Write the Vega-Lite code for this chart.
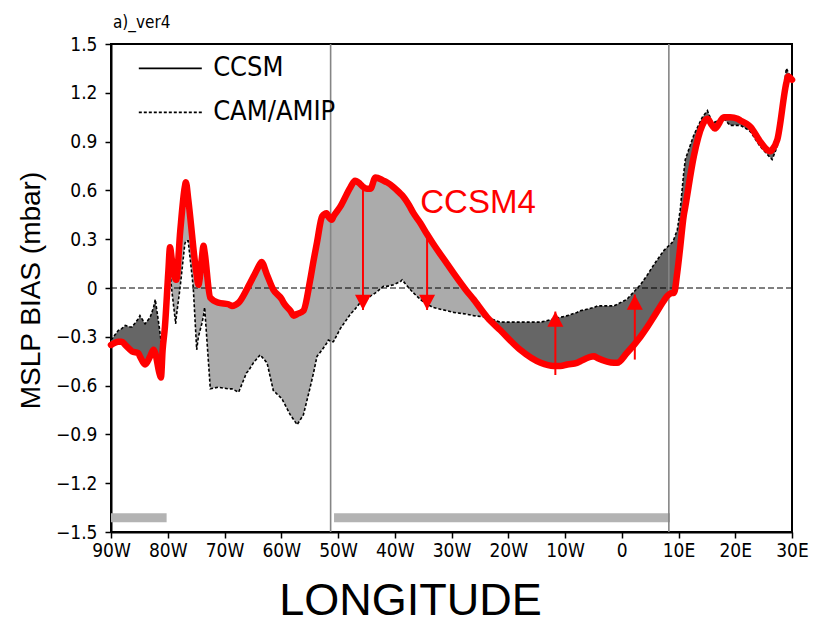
{
  "$schema": "https://vega.github.io/schema/vega-lite/v6.json",
  "width": 681,
  "height": 488,
  "autosize": {"type": "none"},
  "padding": {"left": 111, "top": 44, "right": 22, "bottom": 94},
  "background": "white",
  "config": {
    "view": {"stroke": "black", "strokeWidth": 2},
    "axis": {
      "domainColor": "black", "domainWidth": 2, "tickColor": "black", "tickWidth": 1.5, "tickSize": 6,
      "labelColor": "black", "labelFont": "Liberation Sans Narrow, DejaVu Sans Condensed, sans-serif",
      "labelFontSize": 19, "grid": false, "titleColor": "black", "titleFontWeight": "normal",
      "titleFont": "Liberation Sans, Arial, sans-serif"
    }
  },
  "title": {"text": "a)_ver4", "anchor": "start", "frame": "group", "baseline": "alphabetic", "offset": -10, "dx": 2,
    "fontSize": 17, "fontWeight": "normal", "color": "black", "font": "Liberation Sans Narrow, DejaVu Sans Condensed, sans-serif"},
  "datasets": {
    "curves": [
      {"lon": -90, "ccsm": -0.35, "cam": -0.32, "seg": "A", "shade": "dark"},
      {"lon": -88.7, "ccsm": -0.33, "cam": -0.26, "seg": "A", "shade": "dark"},
      {"lon": -88.1, "ccsm": -0.33, "cam": -0.25, "seg": "A", "shade": "dark"},
      {"lon": -87.5, "ccsm": -0.35, "cam": -0.23, "seg": "A", "shade": "dark"},
      {"lon": -86.6, "ccsm": -0.38, "cam": -0.24, "seg": "A", "shade": "dark"},
      {"lon": -86.3, "ccsm": -0.39, "cam": -0.24, "seg": "A", "shade": "dark"},
      {"lon": -85.2, "ccsm": -0.40, "cam": -0.19, "seg": "A", "shade": "dark"},
      {"lon": -84.9, "ccsm": -0.42, "cam": -0.17, "seg": "A", "shade": "dark"},
      {"lon": -84.0, "ccsm": -0.47, "cam": -0.22, "seg": "A", "shade": "dark"},
      {"lon": -83.1, "ccsm": -0.42, "cam": -0.18, "seg": "A", "shade": "dark"},
      {"lon": -82.5, "ccsm": -0.38, "cam": -0.12, "seg": "A", "shade": "dark"},
      {"lon": -82.2, "ccsm": -0.40, "cam": -0.07, "seg": "A", "shade": "dark"},
      {"lon": -81.5, "ccsm": -0.52, "cam": -0.24, "seg": "A", "shade": "dark"},
      {"lon": -81.2, "ccsm": -0.55, "cam": -0.32, "seg": "A", "shade": "dark"},
      {"lon": -80.9, "ccsm": -0.38, "cam": -0.38, "seg": "A", "shade": "dark"},
      {"lon": -80.9, "ccsm": -0.38, "cam": -0.38, "seg": "B", "shade": "light"},
      {"lon": -80.5, "ccsm": -0.24, "cam": -0.26, "seg": "B", "shade": "light"},
      {"lon": -79.9, "ccsm": 0.10, "cam": 0.08, "seg": "B", "shade": "light"},
      {"lon": -79.6, "ccsm": 0.25, "cam": 0.10, "seg": "B", "shade": "light"},
      {"lon": -79.3, "ccsm": 0.18, "cam": -0.01, "seg": "B", "shade": "light"},
      {"lon": -78.6, "ccsm": 0.05, "cam": -0.22, "seg": "B", "shade": "light"},
      {"lon": -78.5, "ccsm": 0.05, "cam": -0.18, "seg": "B", "shade": "light"},
      {"lon": -77.8, "ccsm": 0.35, "cam": 0.01, "seg": "B", "shade": "light"},
      {"lon": -77.0, "ccsm": 0.62, "cam": 0.27, "seg": "B", "shade": "light"},
      {"lon": -76.8, "ccsm": 0.65, "cam": 0.29, "seg": "B", "shade": "light"},
      {"lon": -76.4, "ccsm": 0.55, "cam": 0.29, "seg": "B", "shade": "light"},
      {"lon": -75.7, "ccsm": 0.32, "cam": 0.07, "seg": "B", "shade": "light"},
      {"lon": -75.5, "ccsm": 0.25, "cam": 0.0, "seg": "B", "shade": "light"},
      {"lon": -74.9, "ccsm": 0.08, "cam": -0.38, "seg": "B", "shade": "light"},
      {"lon": -74.6, "ccsm": 0.02, "cam": -0.30, "seg": "B", "shade": "light"},
      {"lon": -74.0, "ccsm": 0.18, "cam": -0.22, "seg": "B", "shade": "light"},
      {"lon": -73.7, "ccsm": 0.26, "cam": -0.17, "seg": "B", "shade": "light"},
      {"lon": -73.5, "ccsm": 0.22, "cam": -0.12, "seg": "B", "shade": "light"},
      {"lon": -72.5, "ccsm": -0.06, "cam": -0.62, "seg": "B", "shade": "light"},
      {"lon": -71.1, "ccsm": -0.09, "cam": -0.61, "seg": "B", "shade": "light"},
      {"lon": -69.3, "ccsm": -0.10, "cam": -0.62, "seg": "B", "shade": "light"},
      {"lon": -68.7, "ccsm": -0.11, "cam": -0.62, "seg": "B", "shade": "light"},
      {"lon": -67.5, "ccsm": -0.09, "cam": -0.64, "seg": "B", "shade": "light"},
      {"lon": -66.1, "ccsm": -0.01, "cam": -0.52, "seg": "B", "shade": "light"},
      {"lon": -65.8, "ccsm": 0.01, "cam": -0.51, "seg": "B", "shade": "light"},
      {"lon": -64.9, "ccsm": 0.07, "cam": -0.46, "seg": "B", "shade": "light"},
      {"lon": -63.7, "ccsm": 0.15, "cam": -0.41, "seg": "B", "shade": "light"},
      {"lon": -63.5, "ccsm": 0.16, "cam": -0.42, "seg": "B", "shade": "light"},
      {"lon": -62.5, "ccsm": 0.08, "cam": -0.46, "seg": "B", "shade": "light"},
      {"lon": -61.4, "ccsm": -0.01, "cam": -0.63, "seg": "B", "shade": "light"},
      {"lon": -59.9, "ccsm": -0.07, "cam": -0.68, "seg": "B", "shade": "light"},
      {"lon": -59.6, "ccsm": -0.09, "cam": -0.70, "seg": "B", "shade": "light"},
      {"lon": -58.4, "ccsm": -0.14, "cam": -0.78, "seg": "B", "shade": "light"},
      {"lon": -57.8, "ccsm": -0.17, "cam": -0.81, "seg": "B", "shade": "light"},
      {"lon": -57.2, "ccsm": -0.16, "cam": -0.84, "seg": "B", "shade": "light"},
      {"lon": -56.1, "ccsm": -0.14, "cam": -0.78, "seg": "B", "shade": "light"},
      {"lon": -54.9, "ccsm": 0.05, "cam": -0.61, "seg": "B", "shade": "light"},
      {"lon": -54.3, "ccsm": 0.17, "cam": -0.52, "seg": "B", "shade": "light"},
      {"lon": -53.7, "ccsm": 0.28, "cam": -0.42, "seg": "B", "shade": "light"},
      {"lon": -52.8, "ccsm": 0.44, "cam": -0.38, "seg": "B", "shade": "light"},
      {"lon": -52.0, "ccsm": 0.46, "cam": -0.34, "seg": "B", "shade": "light"},
      {"lon": -51.7, "ccsm": 0.44, "cam": -0.32, "seg": "B", "shade": "light"},
      {"lon": -51.1, "ccsm": 0.42, "cam": -0.33, "seg": "B", "shade": "light"},
      {"lon": -50.8, "ccsm": 0.44, "cam": -0.33, "seg": "B", "shade": "light"},
      {"lon": -49.6, "ccsm": 0.50, "cam": -0.25, "seg": "B", "shade": "light"},
      {"lon": -47.8, "ccsm": 0.62, "cam": -0.16, "seg": "B", "shade": "light"},
      {"lon": -47.0, "ccsm": 0.66, "cam": -0.13, "seg": "B", "shade": "light"},
      {"lon": -46.1, "ccsm": 0.64, "cam": -0.09, "seg": "B", "shade": "light"},
      {"lon": -45.5, "ccsm": 0.62, "cam": -0.08, "seg": "B", "shade": "light"},
      {"lon": -44.9, "ccsm": 0.61, "cam": -0.07, "seg": "B", "shade": "light"},
      {"lon": -44.3, "ccsm": 0.61, "cam": -0.05, "seg": "B", "shade": "light"},
      {"lon": -43.4, "ccsm": 0.68, "cam": -0.03, "seg": "B", "shade": "light"},
      {"lon": -42.0, "ccsm": 0.66, "cam": 0.01, "seg": "B", "shade": "light"},
      {"lon": -41.4, "ccsm": 0.65, "cam": 0.01, "seg": "B", "shade": "light"},
      {"lon": -40.2, "ccsm": 0.62, "cam": 0.02, "seg": "B", "shade": "light"},
      {"lon": -39.0, "ccsm": 0.58, "cam": 0.04, "seg": "B", "shade": "light"},
      {"lon": -38.7, "ccsm": 0.57, "cam": 0.05, "seg": "B", "shade": "light"},
      {"lon": -37.5, "ccsm": 0.51, "cam": 0.00, "seg": "B", "shade": "light"},
      {"lon": -36.7, "ccsm": 0.46, "cam": -0.03, "seg": "B", "shade": "light"},
      {"lon": -35.5, "ccsm": 0.40, "cam": -0.07, "seg": "B", "shade": "light"},
      {"lon": -34.3, "ccsm": 0.33, "cam": -0.10, "seg": "B", "shade": "light"},
      {"lon": -33.2, "ccsm": 0.27, "cam": -0.12, "seg": "B", "shade": "light"},
      {"lon": -30.8, "ccsm": 0.15, "cam": -0.14, "seg": "B", "shade": "light"},
      {"lon": -29.6, "ccsm": 0.09, "cam": -0.15, "seg": "B", "shade": "light"},
      {"lon": -27.5, "ccsm": -0.01, "cam": -0.16, "seg": "B", "shade": "light"},
      {"lon": -26.1, "ccsm": -0.07, "cam": -0.17, "seg": "B", "shade": "light"},
      {"lon": -23.7, "ccsm": -0.18, "cam": -0.18, "seg": "B", "shade": "light"},
      {"lon": -23.7, "ccsm": -0.18, "cam": -0.18, "seg": "C", "shade": "dark"},
      {"lon": -21.4, "ccsm": -0.26, "cam": -0.21, "seg": "C", "shade": "dark"},
      {"lon": -17.9, "ccsm": -0.38, "cam": -0.21, "seg": "C", "shade": "dark"},
      {"lon": -14.3, "ccsm": -0.46, "cam": -0.21, "seg": "C", "shade": "dark"},
      {"lon": -12.0, "ccsm": -0.48, "cam": -0.19, "seg": "C", "shade": "dark"},
      {"lon": -10.8, "ccsm": -0.48, "cam": -0.18, "seg": "C", "shade": "dark"},
      {"lon": -9.6, "ccsm": -0.47, "cam": -0.17, "seg": "C", "shade": "dark"},
      {"lon": -7.9, "ccsm": -0.46, "cam": -0.15, "seg": "C", "shade": "dark"},
      {"lon": -7.3, "ccsm": -0.45, "cam": -0.14, "seg": "C", "shade": "dark"},
      {"lon": -4.9, "ccsm": -0.42, "cam": -0.12, "seg": "C", "shade": "dark"},
      {"lon": -4.3, "ccsm": -0.43, "cam": -0.11, "seg": "C", "shade": "dark"},
      {"lon": -1.4, "ccsm": -0.46, "cam": -0.11, "seg": "C", "shade": "dark"},
      {"lon": -0.8, "ccsm": -0.46, "cam": -0.10, "seg": "C", "shade": "dark"},
      {"lon": 0.9, "ccsm": -0.40, "cam": -0.07, "seg": "C", "shade": "dark"},
      {"lon": 3.3, "ccsm": -0.30, "cam": 0.02, "seg": "C", "shade": "dark"},
      {"lon": 4.5, "ccsm": -0.24, "cam": 0.08, "seg": "C", "shade": "dark"},
      {"lon": 5.6, "ccsm": -0.18, "cam": 0.14, "seg": "C", "shade": "dark"},
      {"lon": 7.4, "ccsm": -0.08, "cam": 0.23, "seg": "C", "shade": "dark"},
      {"lon": 8.0, "ccsm": -0.05, "cam": 0.25, "seg": "C", "shade": "dark"},
      {"lon": 8.9, "ccsm": -0.03, "cam": 0.28, "seg": "C", "shade": "dark"},
      {"lon": 9.2, "ccsm": -0.03, "cam": 0.30, "seg": "C", "shade": "dark"},
      {"lon": 9.8, "ccsm": 0.10, "cam": 0.36, "seg": "C", "shade": "dark"},
      {"lon": 10.3, "ccsm": 0.25, "cam": 0.48, "seg": "C", "shade": "dark"},
      {"lon": 10.9, "ccsm": 0.44, "cam": 0.70, "seg": "C", "shade": "dark"},
      {"lon": 11.2, "ccsm": 0.50, "cam": 0.79, "seg": "C", "shade": "dark"},
      {"lon": 12.7, "ccsm": 0.81, "cam": 0.94, "seg": "C", "shade": "dark"},
      {"lon": 14.2, "ccsm": 1.00, "cam": 1.05, "seg": "C", "shade": "dark"},
      {"lon": 15.1, "ccsm": 1.04, "cam": 1.09, "seg": "C", "shade": "dark"},
      {"lon": 15.9, "ccsm": 1.00, "cam": 1.02, "seg": "C", "shade": "dark"},
      {"lon": 16.4, "ccsm": 0.98, "cam": 1.02, "seg": "C", "shade": "dark"},
      {"lon": 18.0, "ccsm": 1.05, "cam": 1.04, "seg": "C", "shade": "dark"},
      {"lon": 19.1, "ccsm": 1.05, "cam": 1.00, "seg": "C", "shade": "dark"},
      {"lon": 20.4, "ccsm": 1.04, "cam": 1.00, "seg": "C", "shade": "dark"},
      {"lon": 20.9, "ccsm": 1.03, "cam": 1.00, "seg": "C", "shade": "dark"},
      {"lon": 22.4, "ccsm": 1.00, "cam": 0.97, "seg": "C", "shade": "dark"},
      {"lon": 22.7, "ccsm": 0.99, "cam": 0.96, "seg": "C", "shade": "dark"},
      {"lon": 24.2, "ccsm": 0.91, "cam": 0.88, "seg": "C", "shade": "dark"},
      {"lon": 24.4, "ccsm": 0.90, "cam": 0.87, "seg": "C", "shade": "dark"},
      {"lon": 26.2, "ccsm": 0.84, "cam": 0.80, "seg": "C", "shade": "dark"},
      {"lon": 26.5, "ccsm": 0.85, "cam": 0.79, "seg": "C", "shade": "dark"},
      {"lon": 27.4, "ccsm": 0.91, "cam": 0.87, "seg": "C", "shade": "dark"},
      {"lon": 29.0, "ccsm": 1.26, "cam": 1.35, "seg": "C", "shade": "dark"},
      {"lon": 29.3, "ccsm": 1.30, "cam": 1.33, "seg": "C", "shade": "dark"},
      {"lon": 30.0, "ccsm": 1.28, "cam": 1.27, "seg": "C", "shade": "dark"}
    ],
    "vlines": [{"lon": -51.3}, {"lon": 8.3}],
    "bars": [{"lon1": -90, "lon2": -80.2, "v1": -1.385, "v2": -1.44}, {"lon1": -50.7, "lon2": 8.5, "v1": -1.385, "v2": -1.44}],
    "arrows": [
      {"lon": -45.6, "from": 0.62, "to": -0.135, "dir": "down"},
      {"lon": -34.3, "from": 0.31, "to": -0.135, "dir": "down"},
      {"lon": -11.7, "from": -0.535, "to": -0.145, "dir": "up"},
      {"lon": 2.3, "from": -0.44, "to": -0.04, "dir": "up"}
    ],
    "legendLines": [
      {"lon1": -85.1, "lon2": -74.0, "v": 1.35, "style": "solid"},
      {"lon1": -85.1, "lon2": -74.0, "v": 1.08, "style": "dash"}
    ],
    "legendText": [
      {"lon": -72.0, "v": 1.35, "label": "CCSM"},
      {"lon": -72.0, "v": 1.08, "label": "CAM/AMIP"}
    ],
    "annot": [{"lon": -35.5, "v": 0.52, "label": "CCSM4"}]
  },
  "encoding": {
    "x": {"type": "quantitative", "scale": {"domain": [-90, 30], "nice": false, "zero": false},
      "axis": {"values": [-90, -80, -70, -60, -50, -40, -30, -20, -10, 0, 10, 20, 30],
        "labelExpr": "datum.value < 0 ? (-datum.value) + 'W' : (datum.value == 0 ? '0' : datum.value + 'E')",
        "labelPadding": 3, "labelFlush": false, "labelOverlap": false,
        "title": "LONGITUDE", "titleFontSize": 45, "titleX": 299, "titleY": 82, "titleAlign": "center", "titleBaseline": "alphabetic"}},
    "y": {"type": "quantitative", "scale": {"domain": [-1.5, 1.5], "nice": false, "zero": false},
      "axis": {"values": [-1.5, -1.2, -0.9, -0.6, -0.3, 0, 0.3, 0.6, 0.9, 1.2, 1.5],
        "labelExpr": "datum.value == 0 ? '0' : format(datum.value, '.1f')",
        "labelPadding": 8, "labelFlush": false, "labelOverlap": false,
        "title": "MSLP BIAS (mbar)", "titleFontSize": 28, "titleAngle": -90, "titleX": -72, "titleY": 246, "titleAlign": "center", "titleBaseline": "alphabetic"}}
  },
  "layer": [
    {
      "data": {"name": "curves"},
      "mark": {"type": "area", "interpolate": "linear"},
      "encoding": {
        "x": {"field": "lon"},
        "y": {"field": "ccsm"},
        "y2": {"field": "cam"},
        "detail": {"field": "seg"},
        "fill": {"field": "shade", "type": "nominal", "scale": {"domain": ["light", "dark"], "range": ["#ababab", "#666666"]}, "legend": null}
      }
    },
    {
      "data": {"name": "bars"},
      "mark": {"type": "rect", "color": "#b3b3b3"},
      "encoding": {
        "x": {"field": "lon1"},
        "x2": {"field": "lon2"},
        "y": {"field": "v1"},
        "y2": {"field": "v2"}
      }
    },
    {
      "data": {"values": [{"v": 0}]},
      "mark": {"type": "rule", "color": "black", "strokeWidth": 1, "strokeDash": [6, 3]},
      "encoding": {"x": null, "y": {"field": "v"}}
    },
    {
      "data": {"name": "vlines"},
      "mark": {"type": "rule", "color": "#858585", "strokeWidth": 1.6},
      "encoding": {"x": {"field": "lon"}, "y": null}
    },
    {
      "data": {"name": "curves"},
      "mark": {"type": "line", "color": "black", "strokeWidth": 1.6, "strokeDash": [3, 2]},
      "encoding": {"x": {"field": "lon"}, "y": {"field": "cam"}}
    },
    {
      "data": {"name": "curves"},
      "mark": {"type": "line", "color": "#ff0000", "strokeWidth": 6.5, "strokeCap": "round", "strokeJoin": "round", "interpolate": "monotone"},
      "encoding": {"x": {"field": "lon"}, "y": {"field": "ccsm"}}
    },
    {
      "data": {"name": "arrows"},
      "mark": {"type": "rule", "color": "#ff0000", "strokeWidth": 2},
      "encoding": {"x": {"field": "lon"}, "y": {"field": "from"}, "y2": {"field": "to"}}
    },
    {
      "data": {"name": "arrows"},
      "mark": {"type": "point", "filled": true, "color": "#ff0000", "opacity": 1, "strokeWidth": 0, "size": 256},
      "encoding": {
        "x": {"field": "lon"},
        "y": {"field": "to"},
        "shape": {"field": "dir", "type": "nominal", "scale": {"domain": ["down", "up"], "range": ["M-1,-1.9L1,-1.9L0,0Z", "M-1,1.9L1,1.9L0,0Z"]}, "legend": null}
      }
    },
    {
      "data": {"name": "legendLines"},
      "mark": {"type": "rule", "color": "black", "strokeWidth": 1.8},
      "encoding": {
        "x": {"field": "lon1"},
        "x2": {"field": "lon2"},
        "y": {"field": "v"},
        "strokeDash": {"field": "style", "type": "nominal", "scale": {"domain": ["solid", "dash"], "range": [[1, 0], [3, 2]]}, "legend": null}
      }
    },
    {
      "data": {"name": "legendText"},
      "mark": {"type": "text", "align": "left", "baseline": "middle", "fontSize": 27, "color": "black", "font": "Liberation Sans Narrow, DejaVu Sans Condensed, sans-serif"},
      "encoding": {"x": {"field": "lon"}, "y": {"field": "v"}, "text": {"field": "label"}}
    },
    {
      "data": {"name": "annot"},
      "mark": {"type": "text", "align": "left", "baseline": "middle", "fontSize": 33, "color": "#ff0000", "font": "Liberation Sans, Arial, sans-serif"},
      "encoding": {"x": {"field": "lon"}, "y": {"field": "v"}, "text": {"field": "label"}}
    }
  ]
}
